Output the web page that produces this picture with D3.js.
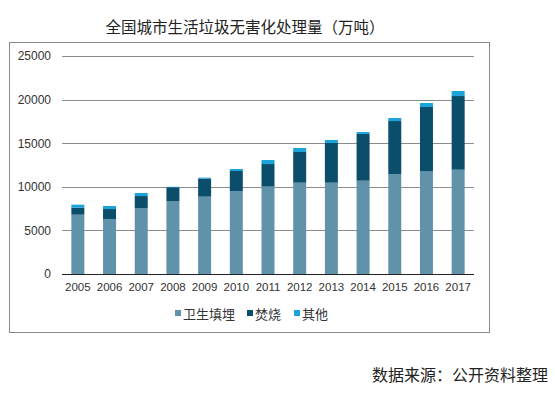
<!DOCTYPE html>
<html><head><meta charset="utf-8">
<script src="https://cdn.jsdelivr.net/npm/d3@7"></script>
<style>body{margin:0;background:#fff;} svg{display:block;}</style>
</head><body>
<svg id="c" width="555" height="394"></svg>
<script>
const years = ["2005","2006","2007","2008","2009","2010","2011","2012","2013","2014","2015","2016","2017"];
const landfill = [6800,6300,7570,8370,8870,9520,10020,10470,10470,10700,11470,11810,11960];
const incineration = [800,1150,1370,1570,2060,2290,2590,3520,4550,5360,6070,7340,8450];
const other = [350,350,350,60,120,230,460,460,350,220,350,460,580];
const seriesNames = ["卫生填埋","焚烧","其他"];
const colors = ["#6093a9","#0a4e6c","#1ca3d9"];
const yTicks = [0,5000,10000,15000,20000,25000];

const svg = d3.select("#c");
const font = "'Liberation Sans', Arial, 'Noto Sans CJK SC', sans-serif";
const cjk = "'Noto Sans CJK SC', sans-serif";

svg.append("rect").attr("x",9.5).attr("y",42.5).attr("width",480).attr("height",290)
  .attr("fill","none").attr("stroke","#898989").attr("stroke-width",1);

svg.append("text").attr("x",245).attr("y",33).attr("text-anchor","middle")
  .attr("font-family",cjk).attr("font-size",15.5).attr("fill","#222")
  .text("全国城市生活垃圾无害化处理量（万吨）");

const x = d3.scaleBand().domain(years).range([62,474]).paddingInner(0.59).paddingOuter(0.295);
const y = d3.scaleLinear().domain([0,25000]).range([274,56]);

const g = svg.append("g");
g.selectAll("line.grid").data(yTicks.filter(d=>d>0)).join("line")
  .attr("x1",62).attr("x2",474).attr("y1",d=>Math.round(y(d))+0.5).attr("y2",d=>Math.round(y(d))+0.5)
  .attr("stroke","#8c8c8c").attr("stroke-width",1);

const data = years.map((yr,i)=>({year:yr, 卫生填埋:landfill[i], 焚烧:incineration[i], 其他:other[i]}));
const stack = d3.stack().keys(seriesNames)(data);
g.selectAll("g.s").data(stack).join("g").attr("fill",(d,i)=>colors[i])
  .selectAll("rect").data(d=>d).join("rect")
  .attr("x",d=>x(d.data.year)).attr("width",x.bandwidth())
  .attr("y",d=>y(d[1])).attr("height",d=>y(d[0])-y(d[1]));

const yAxis = d3.axisLeft(y).tickValues(yTicks).tickSize(0).tickPadding(11).tickFormat(d3.format("d"));
const ya = svg.append("g").attr("transform","translate(62,0)").call(yAxis);
ya.select(".domain").remove();
ya.selectAll("text").attr("font-family",font).attr("font-size",12).attr("fill","#333");

const xAxis = d3.axisBottom(x).tickSize(0).tickPadding(9);
const xa = svg.append("g").attr("transform","translate(0,274)").call(xAxis);
xa.select(".domain").attr("stroke","#222").attr("d","M62,0.5H474");
xa.selectAll("text").attr("font-family",font).attr("font-size",11.5).attr("fill","#333");

const legX = [175,247,294];
const leg = svg.append("g");
seriesNames.forEach((n,i)=>{
  leg.append("rect").attr("x",legX[i]).attr("y",310).attr("width",6).attr("height",6).attr("fill",colors[i]);
  leg.append("text").attr("x",legX[i]+8).attr("y",318.5).attr("font-family",cjk).attr("font-size",13)
    .attr("fill","#333").text(n);
});

svg.append("text").attr("x",548).attr("y",381).attr("text-anchor","end")
  .attr("font-family",cjk).attr("font-size",16).attr("fill","#222").text("数据来源：公开资料整理");
</script>
</body></html>
